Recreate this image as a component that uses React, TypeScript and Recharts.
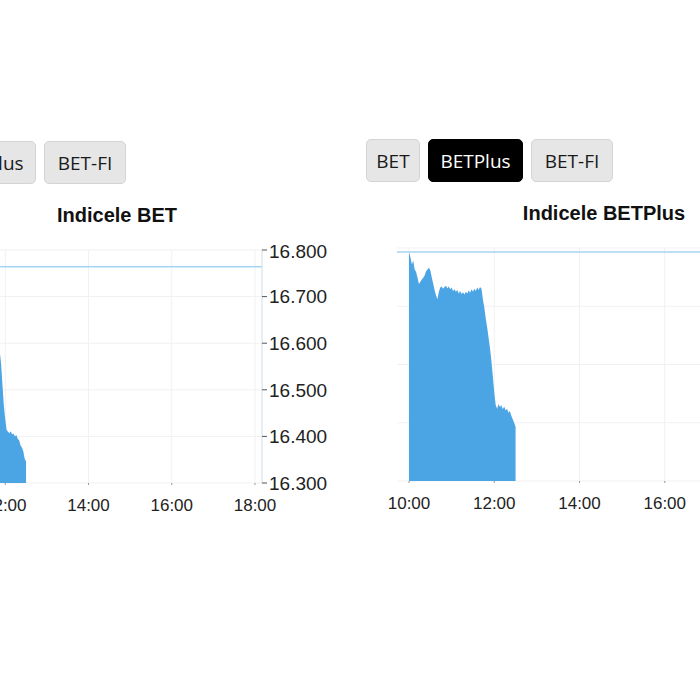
import React from 'react'
import {
  AreaChart,
  Area,
  XAxis,
  YAxis,
  CartesianGrid,
  ReferenceLine,
} from 'recharts'

const INDICES = ['BET', 'BETPlus', 'BET-FI']
const TIME_TICKS = [600, 720, 840, 960, 1080]

// minute of day, sampled every 2 minutes from 10:00 to 12:30
const minutes = Array.from({ length: 76 }, (_, i) => 600 + i * 2)

const betValues = [
  16764, 16751, 16735, 16743, 16722, 16717, 16703, 16687, 16693, 16698,
  16703, 16708, 16718, 16722, 16726, 16721, 16704, 16689, 16673, 16661,
  16651, 16669, 16679, 16682, 16676, 16680, 16683, 16678, 16682, 16675,
  16679, 16671, 16675, 16669, 16673, 16665, 16671, 16664, 16668, 16662,
  16669, 16665, 16672, 16666, 16675, 16669, 16676, 16671, 16679, 16673,
  16680, 16676, 16655, 16640, 16625, 16605, 16583, 16556, 16510, 16466,
  16436, 16414, 16410, 16407, 16411, 16404, 16406, 16400, 16403, 16395,
  16392, 16381, 16376, 16368, 16352, 16346,
]

const betPlusValues = [
  2458.6, 2456.8, 2454.4, 2455.6, 2452.6, 2451.8, 2449.8, 2447.6, 2448.4, 2449.2,
  2449.8, 2450.6, 2452.0, 2452.6, 2453.2, 2452.4, 2450.0, 2447.8, 2445.6, 2443.8,
  2442.4, 2445.0, 2446.4, 2446.8, 2446.0, 2446.6, 2447.0, 2446.2, 2446.8, 2445.8,
  2446.4, 2445.2, 2445.8, 2445.0, 2445.6, 2444.4, 2445.2, 2444.2, 2444.8, 2444.0,
  2445.0, 2444.4, 2445.4, 2444.6, 2445.8, 2445.0, 2446.0, 2445.2, 2446.4, 2445.6,
  2446.6, 2446.0, 2442.4, 2439.6, 2435.8, 2432.8, 2429.2, 2425.6, 2421.2, 2416.0,
  2410.4, 2406.2, 2404.8, 2406.4, 2405.4, 2406.0, 2404.6, 2405.6, 2404.2, 2404.8,
  2403.4, 2404.0, 2402.4, 2401.2, 2400.0, 2398.6,
]

const BET_TICKS = [16300, 16400, 16500, 16600, 16700, 16800]
const BETPLUS_TICKS = [2380, 2400, 2420, 2440, 2460]
const BET_PREV_CLOSE = 16764
const BETPLUS_PREV_CLOSE = 2458.6

const AREA_COLOR = '#4ba4e4'
const REF_COLOR = '#a6d5ef'
const GRID_COLOR = '#f1f1f1'

const fmtTime = (m: number) =>
  `${Math.floor(m / 60)}:${String(m % 60).padStart(2, '0')}`

// ro-RO style: dot as thousands separator
const fmtValue = (v: number) =>
  Math.round(v)
    .toString()
    .replace(/\B(?=(\d{3})+(?!\d))/g, '.')

// grid verticals only at the time ticks, not at the plot edges
const renderVertical = (p: any) => {
  const atEdge =
    Math.abs(p.x1 - p.x) < 0.5 || Math.abs(p.x1 - (p.x + p.width)) < 0.5
  if (atEdge) return <g key={p.key} />
  return (
    <line
      key={p.key}
      x1={p.x1}
      y1={p.y1}
      x2={p.x2}
      y2={p.y2}
      stroke={GRID_COLOR}
      fill="none"
    />
  )
}

type PanelProps = {
  title: string
  selected: string
  values: number[]
  yTicks: number[]
  refValue: number
  yWidth: number
  left: number
  top: number
}

function IndexPanel({
  title,
  selected,
  values,
  yTicks,
  refValue,
  yWidth,
  left,
  top,
}: PanelProps) {
  const data = minutes.map((t, i) => ({ t, v: values[i] }))
  const widths: Record<string, number> = { BET: 54, BETPlus: 95, 'BET-FI': 82 }

  return (
    <div style={{ position: 'absolute', left, top, width: 476, height: 420 }}>
      {/* index switch */}
      <div style={{ position: 'absolute', left: 0, top: 0, display: 'flex', gap: 8 }}>
        {INDICES.map((name) => {
          const active = name === selected
          return (
            <div
              key={name}
              style={{
                width: widths[name],
                height: 43,
                boxSizing: 'border-box',
                display: 'flex',
                alignItems: 'center',
                justifyContent: 'center',
                borderRadius: 5,
                border: active ? '1px solid #000' : '1px solid #d4d4d4',
                background: active ? '#000' : '#e6e6e6',
                color: active ? '#fff' : '#1a1a1a',
                fontFamily: '"Open Sans", sans-serif',
                fontSize: 19,
              }}
            >
              {name}
            </div>
          )
        })}
      </div>

      {/* title */}
      <div
        style={{
          position: 'absolute',
          left: 0,
          top: 64,
          width: 476,
          textAlign: 'center',
          fontFamily: '"Liberation Sans", Arial, sans-serif',
          fontWeight: 700,
          fontSize: 20,
          lineHeight: '20px',
          color: '#111',
        }}
      >
        {title}
      </div>

      {/* chart */}
      <div style={{ position: 'absolute', left: 0, top: 99 }}>
        <AreaChart
          width={476}
          height={280}
          data={data}
          margin={{ top: 10, right: 20, bottom: 7, left: 31 }}
        >
          <CartesianGrid stroke={GRID_COLOR} vertical={renderVertical} />
          <XAxis
            dataKey="t"
            type="number"
            domain={[600, 1080]}
            ticks={TIME_TICKS}
            tickFormatter={fmtTime}
            padding={{ left: 12, right: 7 }}
            axisLine={false}
            tickLine={{ stroke: '#999' }}
            tickSize={2}
            tickMargin={14}
            height={30}
            tick={{ fill: '#222', fontSize: 17, fontFamily: '"Liberation Sans", Arial' }}
          />
          <YAxis
            orientation="right"
            type="number"
            domain={[yTicks[0], yTicks[yTicks.length - 1]]}
            ticks={yTicks}
            tickFormatter={fmtValue}
            width={yWidth}
            axisLine={{ stroke: '#cfdde8' }}
            tickLine={{ stroke: '#555' }}
            tickSize={5}
            tickMargin={2}
            tick={{ fill: '#222', fontSize: 19, fontFamily: '"Liberation Sans", Arial' }}
          />
          <Area
            type="linear"
            dataKey="v"
            stroke="none"
            fill={AREA_COLOR}
            fillOpacity={1}
            isAnimationActive={false}
          />
          <ReferenceLine y={refValue} stroke={REF_COLOR} strokeWidth={1.5} />
        </AreaChart>
      </div>
    </div>
  )
}

export default function App() {
  return (
    <div
      style={{
        position: 'fixed',
        left: 0,
        top: 0,
        width: 700,
        height: 700,
        overflow: 'hidden',
        background: '#fff',
      }}
    >
      <IndexPanel
        title="Indicele BET"
        selected="BET"
        values={betValues}
        yTicks={BET_TICKS}
        refValue={BET_PREV_CLOSE}
        yWidth={73}
        left={-121}
        top={141}
      />
      <IndexPanel
        title="Indicele BETPlus"
        selected="BETPlus"
        values={betPlusValues}
        yTicks={BETPLUS_TICKS}
        refValue={BETPLUS_PREV_CLOSE}
        yWidth={65}
        left={366}
        top={139}
      />
    </div>
  )
}
